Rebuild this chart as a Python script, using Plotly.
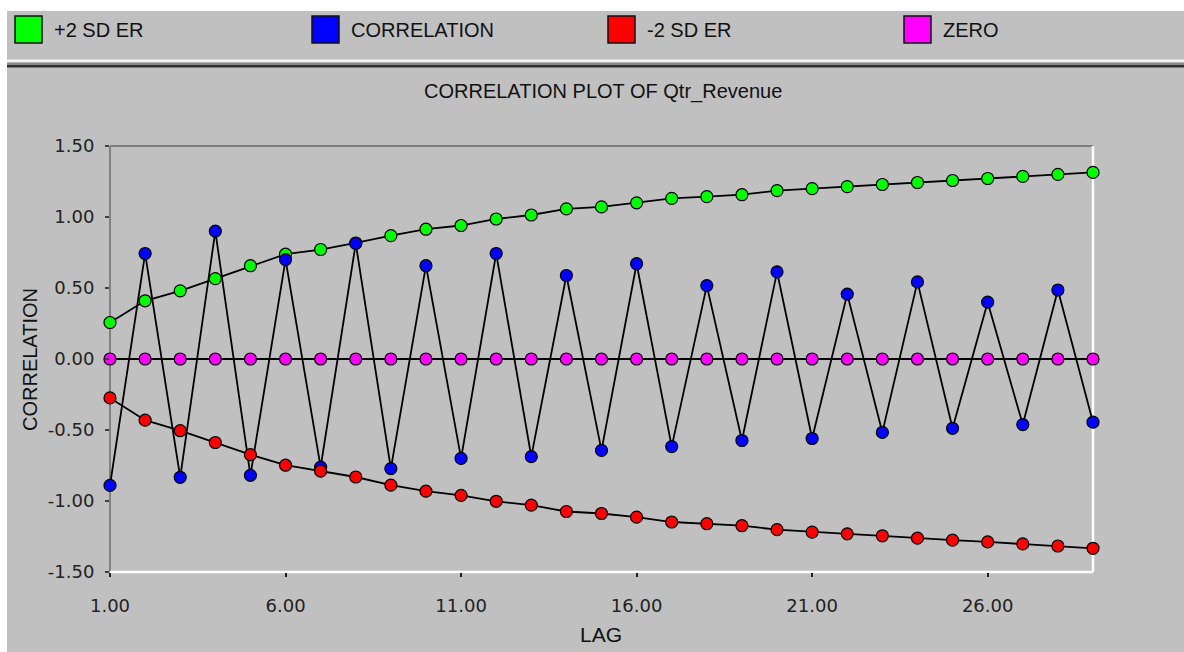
import plotly.graph_objects as go

# ---------------- data ----------------
lags = list(range(1, 30))
plus_2sd = [0.257, 0.41, 0.48, 0.566, 0.657, 0.738, 0.771, 0.817, 0.869, 0.914,
            0.94, 0.986, 1.014, 1.057, 1.071, 1.10, 1.131, 1.143, 1.157, 1.186,
            1.20, 1.214, 1.229, 1.243, 1.257, 1.271, 1.286, 1.30, 1.314]
correlation = [-0.89, 0.743, -0.833, 0.90, -0.819, 0.70, -0.762, 0.814, -0.772, 0.657,
               -0.70, 0.743, -0.688, 0.588, -0.643, 0.671, -0.617, 0.517, -0.574, 0.614,
               -0.56, 0.457, -0.517, 0.543, -0.488, 0.40, -0.462, 0.486, -0.445]
minus_2sd = [-0.274, -0.431, -0.505, -0.588, -0.674, -0.748, -0.79, -0.831, -0.888, -0.931,
             -0.96, -1.002, -1.029, -1.074, -1.088, -1.114, -1.148, -1.16, -1.174, -1.202,
             -1.219, -1.231, -1.245, -1.262, -1.276, -1.288, -1.302, -1.317, -1.333]
zero = [0.0] * 29

series_names = ["+2 SD ER", "CORRELATION", "-2 SD ER", "ZERO"]
series_values = [plus_2sd, correlation, minus_2sd, zero]
series_colors = ["#00ff00", "#0000ff", "#ff0000", "#ff00ff"]

x_ticks = [1, 6, 11, 16, 21, 26]
y_ticks = [-1.5, -1.0, -0.5, 0.0, 0.5, 1.0, 1.5]

title_text = "CORRELATION PLOT OF Qtr_Revenue"
x_title = "LAG"
y_title = "CORRELATION"

# ---------------- layout geometry ----------------
W, H = 1184, 652
L, R, T, B = 110, 1093, 146, 572
SILVER = "#c0c0c0"
FONT = "Liberation Sans, Arial, sans-serif"
TICKFONT = "DejaVu Sans"


def px(xp):
    return (xp - L) / (R - L)


def py(yp):
    return (B - yp) / (B - T)


fig = go.Figure()
for name, vals, col in zip(series_names, series_values, series_colors):
    fig.add_trace(go.Scatter(
        x=lags, y=vals, name=name, mode="lines+markers",
        line=dict(color="black", width=1.8),
        marker=dict(size=12, color=col, line=dict(color="black", width=1.2)),
        cliponaxis=False, showlegend=False,
    ))

shapes = []
# white strips on top and left
shapes.append(dict(type="rect", xref="paper", yref="paper", x0=px(0), x1=px(W),
                   y0=py(11), y1=py(0), fillcolor="white", line=dict(width=0), layer="below"))
shapes.append(dict(type="rect", xref="paper", yref="paper", x0=px(0), x1=px(7),
                   y0=py(H), y1=py(0), fillcolor="white", line=dict(width=0), layer="below"))
# separator groove under legend
shapes.append(dict(type="rect", xref="paper", yref="paper", x0=px(7), x1=px(W),
                   y0=py(62.5), y1=py(59.5), fillcolor="#f4f4f4", line=dict(width=0), layer="below"))
shapes.append(dict(type="rect", xref="paper", yref="paper", x0=px(7), x1=px(W),
                   y0=py(65), y1=py(62.5), fillcolor="#8c8c8c", line=dict(width=0), layer="below"))
shapes.append(dict(type="rect", xref="paper", yref="paper", x0=px(7), x1=px(W),
                   y0=py(67.5), y1=py(65), fillcolor="#303030", line=dict(width=0), layer="below"))
# plot frame: grey left/top, white bottom/right
shapes.append(dict(type="line", xref="paper", yref="paper", x0=0, x1=0, y0=0, y1=1,
                   line=dict(color="#808080", width=2), layer="below"))
shapes.append(dict(type="line", xref="paper", yref="paper", x0=0, x1=1, y0=1, y1=1,
                   line=dict(color="#808080", width=2), layer="below"))
shapes.append(dict(type="line", xref="paper", yref="paper", x0=0, x1=1, y0=0, y1=0,
                   line=dict(color="white", width=2.5), layer="below"))
shapes.append(dict(type="line", xref="paper", yref="paper", x0=1, x1=1, y0=0, y1=1,
                   line=dict(color="white", width=2.5), layer="below"))

annotations = []
legend_x = [15, 312, 608, 904]
for xl, name, col in zip(legend_x, series_names, series_colors):
    shapes.append(dict(type="rect", xref="paper", yref="paper", x0=px(xl), x1=px(xl + 27),
                       y0=py(43), y1=py(16), fillcolor=col,
                       line=dict(color="#101010", width=1.5)))
    annotations.append(dict(xref="paper", yref="paper", x=px(xl + 37), y=py(30),
                            text=name, showarrow=False, xanchor="left", yanchor="middle",
                            font=dict(family=FONT, size=20, color="#111")))

annotations.append(dict(xref="paper", yref="paper", x=px(603), y=py(92), text=title_text,
                        showarrow=False, xanchor="center", yanchor="middle",
                        font=dict(family=FONT, size=20, color="#111")))
annotations.append(dict(xref="paper", yref="paper", x=px(601), y=py(634), text=x_title,
                        showarrow=False, xanchor="center", yanchor="middle",
                        font=dict(family=FONT, size=21, color="#111")))
annotations.append(dict(xref="paper", yref="paper", x=px(30), y=py(360), text=y_title,
                        showarrow=False, xanchor="center", yanchor="middle", textangle=-90,
                        font=dict(family=FONT, size=20, color="#111")))

fig.update_layout(
    width=W, height=H,
    margin=dict(l=L, r=W - R, t=T, b=H - B, pad=0),
    paper_bgcolor=SILVER, plot_bgcolor=SILVER,
    shapes=shapes, annotations=annotations,
    showlegend=False,
    xaxis=dict(range=[1, 29], tickvals=x_ticks, ticktext=[f"{v:.2f}" for v in x_ticks],
               showgrid=False, zeroline=False, showline=False,
               ticks="outside", ticklen=4, tickwidth=2, tickcolor="#202020",
               ticklabelstandoff=13,
               tickfont=dict(family=TICKFONT, size=18, color="#222")),
    yaxis=dict(range=[-1.5, 1.5], tickvals=y_ticks, ticktext=[f"{v:.2f}" for v in y_ticks],
               showgrid=False, zeroline=False, showline=False,
               ticks="outside", ticklen=4, tickwidth=1.5, tickcolor="#404040",
               ticklabelstandoff=7,
               tickfont=dict(family=TICKFONT, size=18, color="#222")),
)

fig.write_html("out.html")
